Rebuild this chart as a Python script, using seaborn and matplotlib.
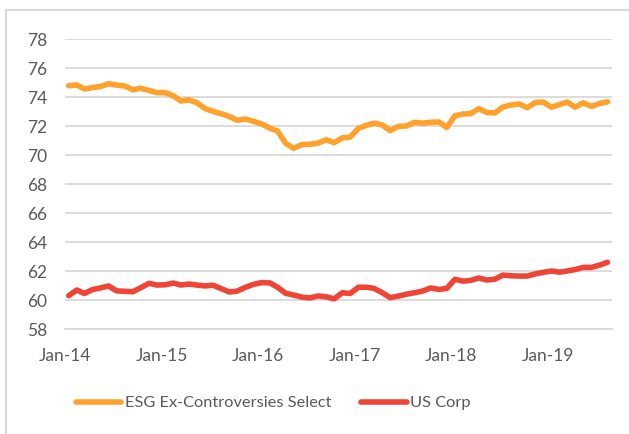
import pandas as pd
import matplotlib.pyplot as plt
import matplotlib.dates as mdates
import seaborn as sns
from matplotlib.patches import Rectangle

# Monthly index levels, Jan-14 to Aug-19
esg_select = [74.78, 74.83, 74.55, 74.65, 74.72, 74.92, 74.82, 74.76, 74.50, 74.60, 74.45, 74.30,
              74.30, 74.08, 73.72, 73.80, 73.60, 73.20, 73.00, 72.85, 72.65, 72.40, 72.48, 72.32,
              72.14, 71.85, 71.65, 70.80, 70.46, 70.72, 70.74, 70.82, 71.05, 70.85, 71.18, 71.24,
              71.85, 72.05, 72.20, 72.07, 71.68, 71.98, 72.00, 72.25, 72.20, 72.25, 72.28, 71.90,
              72.70, 72.83, 72.85, 73.20, 72.93, 72.90, 73.30, 73.45, 73.52, 73.26, 73.62, 73.65,
              73.30, 73.48, 73.65, 73.30, 73.60, 73.35, 73.55, 73.67]
us_corp = [60.30, 60.69, 60.45, 60.72, 60.83, 60.97, 60.63, 60.60, 60.57, 60.85, 61.15, 61.03,
           61.05, 61.17, 61.03, 61.10, 61.03, 60.97, 61.02, 60.78, 60.55, 60.62, 60.88, 61.08,
           61.20, 61.18, 60.88, 60.46, 60.34, 60.20, 60.14, 60.28, 60.22, 60.08, 60.50, 60.45,
           60.88, 60.88, 60.80, 60.50, 60.16, 60.27, 60.40, 60.50, 60.62, 60.83, 60.73, 60.80,
           61.43, 61.30, 61.35, 61.52, 61.38, 61.43, 61.72, 61.67, 61.65, 61.65, 61.80, 61.91,
           62.00, 61.92, 62.00, 62.10, 62.25, 62.25, 62.40, 62.60]
series_names = ['ESG Ex-Controversies Select', 'US Corp']
dates = pd.date_range('2014-01-01', periods=len(esg_select), freq='MS') + pd.Timedelta(days=14)

df = pd.DataFrame({'date': dates, series_names[0]: esg_select, series_names[1]: us_corp})
df_long = df.melt(id_vars='date', var_name='series', value_name='value')

sns.set_style('white')
plt.rcParams['font.family'] = ['Lato', 'DejaVu Sans']

fig = plt.figure(figsize=(6.29, 4.34), dpi=100)
ax = fig.add_axes([65 / 629, 1 - 329 / 434, (612 - 65) / 629, (329 - 39) / 434])

palette = {series_names[0]: '#ffa12b', series_names[1]: '#ef4536'}
sns.lineplot(data=df_long, x='date', y='value', hue='series', palette=palette,
             linewidth=4, solid_capstyle='round', ax=ax)

# Axes styling
ax.set_ylim(58, 78)
ax.set_yticks(range(58, 79, 2))
ax.set_xlim(pd.Timestamp('2014-01-01'), pd.Timestamp('2019-09-01'))
ax.xaxis.set_major_locator(mdates.YearLocator())
ax.xaxis.set_major_formatter(mdates.DateFormatter('%b-%y'))
ax.set_xlabel('')
ax.set_ylabel('')
ax.grid(axis='y', color='#d9d9d9', linewidth=1.3)
ax.set_axisbelow(True)
for side in ['top', 'right', 'left']:
    ax.spines[side].set_visible(False)
ax.spines['bottom'].set_color('#d9d9d9')
ax.spines['bottom'].set_linewidth(1.3)
ax.tick_params(axis='y', length=0, pad=13, labelsize=12.5, labelcolor='#595959')
ax.tick_params(axis='x', length=5, width=1.3, color='#d9d9d9', direction='out',
               pad=9, labelsize=12.5, labelcolor='#595959')

# Legend below the plot
handles, labels = ax.get_legend_handles_labels()
ax.legend(handles, labels, loc='center', bbox_to_anchor=(273 / 629, 1 - 403 / 434),
          bbox_transform=fig.transFigure, ncol=2, frameon=False, fontsize=11.8,
          handlelength=2.8, handletextpad=0.2, columnspacing=1.8, labelcolor='#595959')

# Light chart-area border
fig.patches.append(Rectangle((6 / 629, -0.1), 1.2, 1 - 10 / 434 + 0.1, transform=fig.transFigure,
                             fill=False, edgecolor='#d9d9d9', linewidth=1.5))

fig.savefig('out.png', dpi=100)
